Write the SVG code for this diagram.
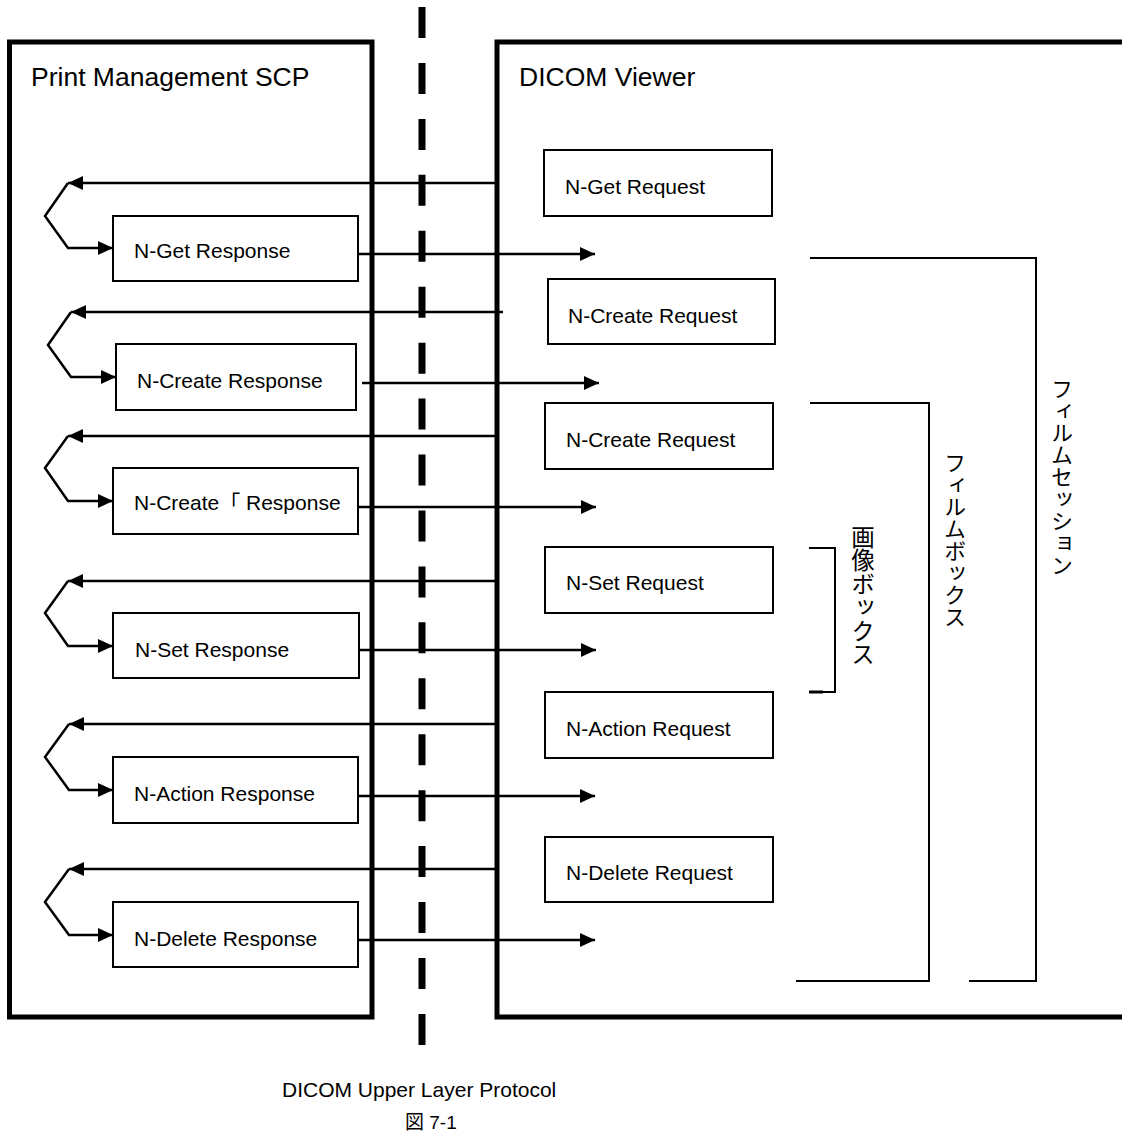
<svg xmlns="http://www.w3.org/2000/svg" width="1122" height="1133" viewBox="0 0 1122 1133">
<style>
.frame{fill:none;stroke:#000;stroke-width:5}
.box{fill:#fff;stroke:#000;stroke-width:2}
.lbl{font-family:"Liberation Sans",Arial,"Noto Sans CJK JP",sans-serif;font-size:21px;fill:#000}
.title{font-family:"Liberation Sans",Arial,sans-serif;font-size:26.5px;fill:#000}
.vt{font-family:"Noto Sans CJK JP",sans-serif;font-size:22px;writing-mode:vertical-rl;fill:#000}
.conn{fill:none;stroke:#000;stroke-width:2.5}
.brk{fill:none;stroke:#000;stroke-width:2}
.cap{font-family:"Liberation Sans",Arial,"Noto Sans CJK JP",sans-serif;fill:#000}
</style>
<defs>
<marker id="ah" markerUnits="userSpaceOnUse" markerWidth="16" markerHeight="15" refX="15" refY="7" orient="auto" viewBox="0 0 16 14">
<path d="M0,0 L15,7 L0,14 z" fill="#000"/>
</marker>
</defs>
<rect width="1122" height="1133" fill="#fff"/>

<g id="scp">
<rect class="frame" x="9.5" y="42" width="362.5" height="975"/>
<text class="title" x="31" y="86">Print Management SCP</text>
</g>
<g id="viewer">
<path class="frame" d="M1126,42 H497 V1017 H1126"/>
<text class="title" x="519" y="86">DICOM Viewer</text>
</g>
<g id="protocol-line">
<line x1="422" y1="7" x2="422" y2="1046" stroke="#000" stroke-width="7" stroke-dasharray="31 24.94"/>
</g>

<g id="req-get"><rect class="box" x="544" y="150" width="228" height="66"/><text class="lbl" x="565" y="194">N-Get Request</text></g>
<g id="req-create1"><rect class="box" x="548" y="279" width="227" height="65"/><text class="lbl" x="568" y="323">N-Create Request</text></g>
<g id="req-create2"><rect class="box" x="545" y="403" width="228" height="66"/><text class="lbl" x="566" y="447">N-Create Request</text></g>
<g id="req-set"><rect class="box" x="545" y="547" width="228" height="66"/><text class="lbl" x="566" y="590">N-Set Request</text></g>
<g id="req-action"><rect class="box" x="545" y="692" width="228" height="66"/><text class="lbl" x="566" y="736">N-Action Request</text></g>
<g id="req-delete"><rect class="box" x="545" y="837" width="228" height="65"/><text class="lbl" x="566" y="880">N-Delete Request</text></g>

<g id="rsp-get"><rect class="box" x="113" y="216" width="245" height="65"/><text class="lbl" x="134" y="258">N-Get Response</text></g>
<g id="rsp-create1"><rect class="box" x="116" y="344" width="240" height="66"/><text class="lbl" x="137" y="388">N-Create Response</text></g>
<g id="rsp-create2"><rect class="box" x="113" y="468" width="245" height="66"/><text class="lbl" x="134" y="510">N-Create「 Response</text></g>
<g id="rsp-set"><rect class="box" x="113" y="613" width="246" height="65"/><text class="lbl" x="135" y="657">N-Set Response</text></g>
<g id="rsp-action"><rect class="box" x="113" y="757" width="245" height="66"/><text class="lbl" x="134" y="801">N-Action Response</text></g>
<g id="rsp-delete"><rect class="box" x="113" y="902" width="245" height="65"/><text class="lbl" x="134" y="946">N-Delete Response</text></g>

<g id="film-session">
<path class="brk" d="M810,258 H1036 V981 H969"/>
<text class="vt" x="1062" y="378">フィルムセッション</text>
</g>
<g id="film-box">
<path class="brk" d="M810,403 H929 V981 H796"/>
<text class="vt" x="955" y="452">フィルムボックス</text>
</g>
<g id="image-box">
<path class="brk" d="M809,548 H835 V692 H809"/>
<line x1="809" y1="692" x2="823" y2="692" stroke="#000" stroke-width="3"/>
<text class="vt" x="863" y="525" style="font-size:23.5px">画像ボックス</text>
</g>

<g id="connectors">
<path class="conn" d="M497,183 H68" marker-end="url(#ah)"/>
<path class="conn" d="M68,183 L45,216 L68,248 H113" marker-end="url(#ah)"/>
<path class="conn" d="M358,254 H595" marker-end="url(#ah)"/>

<path class="conn" d="M503,312 H71" marker-end="url(#ah)"/>
<path class="conn" d="M71,312 L48,345 L71,377 H116" marker-end="url(#ah)"/>
<path class="conn" d="M362,383 H599" marker-end="url(#ah)"/>

<path class="conn" d="M497,436 H68" marker-end="url(#ah)"/>
<path class="conn" d="M68,436 L45,468 L68,501 H113" marker-end="url(#ah)"/>
<path class="conn" d="M358,507 H596" marker-end="url(#ah)"/>

<path class="conn" d="M497,581 H68" marker-end="url(#ah)"/>
<path class="conn" d="M68,581 L45,613 L68,646 H113" marker-end="url(#ah)"/>
<path class="conn" d="M359,650 H596" marker-end="url(#ah)"/>

<path class="conn" d="M497,724 H69" marker-end="url(#ah)"/>
<path class="conn" d="M69,724 L45,757 L69,790 H113" marker-end="url(#ah)"/>
<path class="conn" d="M358,796 H595" marker-end="url(#ah)"/>

<path class="conn" d="M497,869 H69" marker-end="url(#ah)"/>
<path class="conn" d="M69,869 L45,902 L69,935 H113" marker-end="url(#ah)"/>
<path class="conn" d="M358,940 H595" marker-end="url(#ah)"/>
</g>

<g id="caption">
<text class="cap" x="282" y="1097" style="font-size:21px">DICOM Upper Layer Protocol</text>
<text class="cap" x="405" y="1129" style="font-size:19px">図 7-1</text>
</g>
</svg>
